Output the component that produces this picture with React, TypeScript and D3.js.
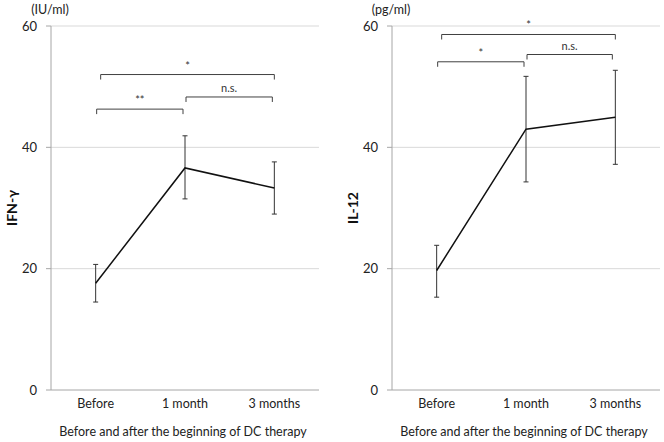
import React from "react";
import * as d3 from "d3";

const categories = ["Before", "1 month", "3 months"];
const yTicks = [0, 20, 40, 60];

const ifnMean = [17.6, 36.6, 33.3];
const ifnUpper = [20.7, 41.9, 37.6];
const ifnLower = [14.5, 31.5, 29.0];

const il12Mean = [19.7, 43.0, 44.95];
const il12Upper = [23.85, 51.7, 52.7];
const il12Lower = [15.3, 34.3, 37.2];

// brackets: [fromIndex, toIndex, yValue, label]
const ifnBrackets: [number, number, number, string][] = [
  [0, 1, 46.3, "**"],
  [1, 2, 48.3, "n.s."],
  [0, 2, 52.0, "*"],
];
const il12Brackets: [number, number, number, string][] = [
  [0, 1, 54.1, "*"],
  [1, 2, 55.3, "n.s."],
  [0, 2, 58.6, "*"],
];

const FONT = "Lato, 'Open Sans', sans-serif";

type PanelProps = {
  left: number;
  unit: string;
  yLabel: string;
  mean: number[];
  upper: number[];
  lower: number[];
  brackets: [number, number, number, string][];
  bracketOffsets: [number, number][];
};

function Panel({ left, unit, yLabel, mean, upper, lower, brackets, bracketOffsets }: PanelProps) {
  const plotW = 268;
  const top = 26;
  const bottom = 390;
  const x = d3.scaleBand<string>().domain(categories).range([left, left + plotW]);
  const y = d3.scaleLinear().domain([0, 60]).range([bottom, top]);
  const cx = (i: number) => (x(categories[i]) as number) + x.bandwidth() / 2;
  const line = d3
    .line<number>()
    .x((_, i) => cx(i))
    .y((d) => y(d));
  return (
    <g fontFamily={FONT}>
      {yTicks.map((t) => (
        <g key={t}>
          {t > 0 && (
            <line x1={left} x2={left + plotW} y1={y(t)} y2={y(t)} stroke="#d9d9d9" strokeWidth={1} />
          )}
          <line x1={left - 5} x2={left} y1={y(t)} y2={y(t)} stroke="#a6a6a6" />
          <text x={left - 14} y={y(t)} dy="0.35em" textAnchor="end" fontSize={13} fill="#222">
            {t}
          </text>
        </g>
      ))}
      <line x1={left} x2={left} y1={top} y2={bottom} stroke="#a6a6a6" />
      <line x1={left} x2={left + plotW} y1={bottom} y2={bottom} stroke="#a6a6a6" />
      <text x={left - 1} y={14} textAnchor="middle" fontSize={12.5} fill="#222">
        {unit}
      </text>
      <text
        transform={`translate(${left - 34},${y(30)}) rotate(-90)`}
        textAnchor="middle"
        fontSize={14}
        fontWeight="bold"
        fill="#111"
      >
        {yLabel}
      </text>
      {categories.map((c, i) => (
        <text key={c} x={cx(i)} y={408} textAnchor="middle" fontSize={12.5} fill="#222">
          {c}
        </text>
      ))}
      <text x={left + plotW / 2 - 2} y={436} textAnchor="middle" fontSize={12.5} fill="#222">
        Before and after the beginning of DC therapy
      </text>
      {mean.map((_, i) => (
        <g key={i} stroke="#333" strokeWidth={1}>
          <line x1={cx(i)} x2={cx(i)} y1={y(upper[i])} y2={y(lower[i])} />
          <line x1={cx(i) - 2.5} x2={cx(i) + 2.5} y1={y(upper[i])} y2={y(upper[i])} />
          <line x1={cx(i) - 2.5} x2={cx(i) + 2.5} y1={y(lower[i])} y2={y(lower[i])} />
        </g>
      ))}
      <path d={line(mean) || ""} fill="none" stroke="#111" strokeWidth={1.5} />
      {brackets.map(([a, b, v, label], k) => {
        const [oa, ob] = bracketOffsets[k];
        const x1 = cx(a) + oa;
        const x2 = cx(b) + ob;
        const yy = y(v);
        return (
          <g key={k}>
            <path
              d={`M${x1},${yy + 5}V${yy}H${x2}V${yy + 5}`}
              fill="none"
              stroke="#404040"
              strokeWidth={1}
            />
            <text x={(x1 + x2) / 2} y={yy - 5} textAnchor="middle" fontSize={11} fill="#333">
              {label}
            </text>
          </g>
        );
      })}
    </g>
  );
}

export default function App() {
  return (
    <svg width={664} height={442} style={{ position: "absolute", left: 0, top: 0, background: "#fff" }}>
      <rect width={664} height={442} fill="#fff" />
      <Panel
        left={51}
        unit="(IU/ml)"
        yLabel="IFN-γ"
        mean={ifnMean}
        upper={ifnUpper}
        lower={ifnLower}
        brackets={ifnBrackets}
        bracketOffsets={[
          [1, -2],
          [1, -2],
          [5, 0],
        ]}
      />
      <Panel
        left={392}
        unit="(pg/ml)"
        yLabel="IL-12"
        mean={il12Mean}
        upper={il12Upper}
        lower={il12Lower}
        brackets={il12Brackets}
        bracketOffsets={[
          [1, -2],
          [1, -3],
          [5, 0],
        ]}
      />
    </svg>
  );
}
